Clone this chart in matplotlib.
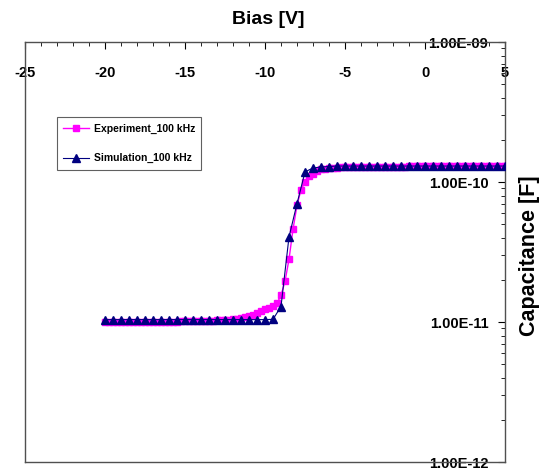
import matplotlib
matplotlib.use("Agg")
import matplotlib.pyplot as plt
from matplotlib.ticker import MultipleLocator, LogLocator, FixedLocator, NullFormatter

plt.rcParams['font.family'] = ['Liberation Sans', 'DejaVu Sans']
plt.rcParams['font.weight'] = 'bold'
plt.rcParams['axes.unicode_minus'] = False

# measured C-V curve, 0.25 V steps from -20 V to 5 V
exp_bias = [-20 + 0.25 * i for i in range(101)]
exp_cap = [
    1.00e-11, 1.00e-11, 1.00e-11, 1.00e-11, 1.00e-11, 1.00e-11, 1.00e-11, 1.00e-11,
    1.00e-11, 1.00e-11, 1.00e-11, 1.00e-11, 1.00e-11, 1.00e-11, 1.005e-11, 1.005e-11,
    1.005e-11, 1.005e-11, 1.005e-11, 1.01e-11, 1.01e-11, 1.01e-11, 1.01e-11, 1.01e-11,
    1.01e-11, 1.015e-11, 1.02e-11, 1.02e-11, 1.025e-11, 1.03e-11, 1.035e-11, 1.04e-11,
    1.045e-11, 1.05e-11, 1.07e-11, 1.09e-11, 1.11e-11, 1.13e-11, 1.16e-11, 1.19e-11,
    1.23e-11, 1.26e-11, 1.30e-11, 1.36e-11, 1.55e-11, 1.95e-11, 2.8e-11, 4.6e-11,
    6.8e-11, 8.8e-11, 1.00e-10, 1.10e-10, 1.15e-10, 1.20e-10, 1.23e-10, 1.245e-10,
    1.255e-10, 1.26e-10, 1.265e-10, 1.27e-10, 1.27e-10, 1.272e-10, 1.274e-10, 1.276e-10,
    1.278e-10, 1.28e-10, 1.28e-10, 1.282e-10, 1.284e-10, 1.285e-10, 1.286e-10, 1.287e-10,
    1.288e-10, 1.289e-10, 1.29e-10, 1.29e-10, 1.291e-10, 1.292e-10, 1.293e-10, 1.294e-10,
    1.295e-10, 1.295e-10, 1.296e-10, 1.297e-10, 1.298e-10, 1.298e-10, 1.299e-10, 1.30e-10,
    1.30e-10, 1.30e-10, 1.301e-10, 1.302e-10, 1.302e-10, 1.303e-10, 1.303e-10, 1.304e-10,
    1.304e-10, 1.305e-10, 1.305e-10, 1.306e-10, 1.306e-10,
]

# simulated C-V curve, 0.5 V steps
sim_bias = [-20 + 0.5 * i for i in range(51)]
sim_cap = [
    1.04e-11, 1.04e-11, 1.04e-11, 1.04e-11, 1.04e-11, 1.04e-11, 1.04e-11, 1.04e-11,
    1.04e-11, 1.04e-11, 1.04e-11, 1.04e-11, 1.04e-11, 1.04e-11, 1.04e-11, 1.04e-11,
    1.04e-11, 1.04e-11, 1.04e-11, 1.04e-11, 1.04e-11, 1.045e-11, 1.29e-11, 4.05e-11,
    7.0e-11, 1.18e-10, 1.26e-10, 1.28e-10, 1.29e-10, 1.30e-10, 1.30e-10, 1.30e-10,
    1.30e-10, 1.30e-10, 1.30e-10, 1.30e-10, 1.30e-10, 1.30e-10, 1.30e-10, 1.30e-10,
    1.30e-10, 1.30e-10, 1.30e-10, 1.30e-10, 1.30e-10, 1.30e-10, 1.30e-10, 1.30e-10,
    1.30e-10, 1.30e-10, 1.30e-10,
]

y_ticks = [1e-12, 1e-11, 1e-10, 1e-9]
y_labels = ['1.00E-12', '1.00E-11', '1.00E-10', '1.00E-09']

fig = plt.figure(figsize=(5.51, 4.72), dpi=100)
ax = fig.add_axes([25 / 551, 1 - 462 / 472, 480 / 551, 420 / 472])

ax.plot(exp_bias, exp_cap, color='#ff00ff', marker='s', markersize=5, lw=1,
        label='Experiment_100 kHz', zorder=3)
ax.plot(sim_bias, sim_cap, color='#000080', marker='^', markersize=5.5, lw=0.8,
        label='Simulation_100 kHz', zorder=4)

ax.set_yscale('log')
ax.set_xlim(-25, 5)
ax.set_ylim(1e-12, 1e-9)

# x axis sits on top, labels hang below it inside the box
ax.xaxis.set_major_locator(MultipleLocator(5))
ax.xaxis.set_minor_locator(MultipleLocator(1))
ax.tick_params(axis='x', which='both', top=True, bottom=False, labeltop=True,
               labelbottom=False, direction='in', pad=-17, labelsize=10.5)
ax.tick_params(axis='x', which='major', length=5)
ax.tick_params(axis='x', which='minor', length=3)
for lbl in ax.get_xticklabels():
    lbl.set_verticalalignment('top')
    lbl.set_fontweight('bold')

# y axis on the right, labels inside to the left of it
ax.yaxis.set_major_locator(FixedLocator(y_ticks))
ax.set_yticklabels(y_labels)
ax.yaxis.set_minor_locator(LogLocator(base=10, subs=range(2, 10)))
ax.yaxis.set_minor_formatter(NullFormatter())
ax.tick_params(axis='y', which='both', right=True, left=False, labelright=True,
               labelleft=False, direction='in', pad=-12, labelsize=10.5)
ax.tick_params(axis='y', which='major', length=5)
ax.tick_params(axis='y', which='minor', length=3)
for lbl in ax.get_yticklabels():
    lbl.set_horizontalalignment('right')
    lbl.set_fontweight('bold')

for sp in ax.spines.values():
    sp.set_color('#505050')
    sp.set_linewidth(1)

fig.text(268 / 551, 1 - 19 / 472, 'Bias [V]', ha='center', va='center',
         fontsize=14, fontweight='bold')
fig.text(530 / 551, 1 - 256 / 472, 'Capacitance [F]', ha='center', va='center',
         rotation=90, fontsize=15.5, fontweight='bold')

leg = ax.legend(loc='upper left', bbox_to_anchor=(0.067, 0.821), borderaxespad=0,
                fancybox=False, framealpha=1, edgecolor='#606060',
                prop={'size': 7.5, 'weight': 'bold'}, handlelength=2.5,
                handletextpad=0.4, borderpad=0.6, labelspacing=1.9)
leg.get_frame().set_linewidth(0.8)

fig.savefig('out.png', dpi=100)
